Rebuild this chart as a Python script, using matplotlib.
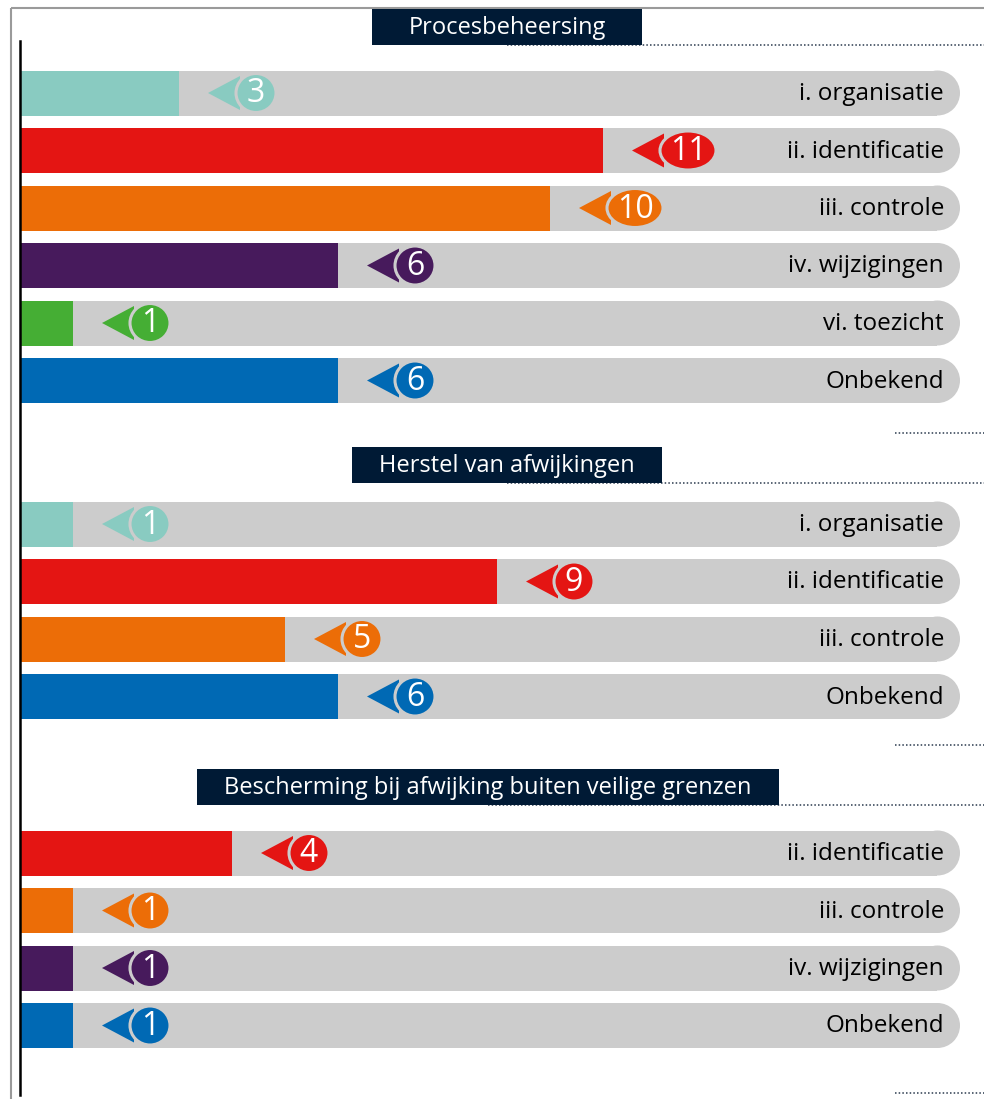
import matplotlib
matplotlib.use('Agg')
import matplotlib.pyplot as plt
from matplotlib.patches import Rectangle, Ellipse, Polygon

plt.rcParams['font.family'] = ['Open Sans', 'DejaVu Sans']

# data per section
sec1_title = 'Procesbeheersing'
sec1_cats = ['i. organisatie', 'ii. identificatie', 'iii. controle',
             'iv. wijzigingen', 'vi. toezicht', 'Onbekend']
sec1_vals = [3, 11, 10, 6, 1, 6]

sec2_title = 'Herstel van afwijkingen'
sec2_cats = ['i. organisatie', 'ii. identificatie', 'iii. controle', 'Onbekend']
sec2_vals = [1, 9, 5, 6]

sec3_title = 'Bescherming bij afwijking buiten veilige grenzen'
sec3_cats = ['ii. identificatie', 'iii. controle', 'iv. wijzigingen', 'Onbekend']
sec3_vals = [4, 1, 1, 1]

colors = {
    'i. organisatie': '#89cbc1',
    'ii. identificatie': '#e41513',
    'iii. controle': '#ec6d07',
    'iv. wijzigingen': '#471a5c',
    'vi. toezicht': '#45ae34',
    'Onbekend': '#0069b4',
}
TRACK = '#cccccc'
NAVY = '#001a35'

W, H = 984, 1099
UNIT = 53.0      # pixels per count
X0 = 20          # pixel position of zero
BAR_H = 45
PITCH = 57.5


def px(x):
    # pixel x -> data units
    return (x - X0) / UNIT


fig = plt.figure(figsize=(W / 100, H / 100), dpi=100)
ax = fig.add_axes([0, 0, 1, 1])
ax.set_xlim(px(0), px(W))
ax.set_ylim(H, 0)
ax.axis('off')

# outer frame and axis line
ax.add_patch(Rectangle((px(11), 8), px(W + 50) - px(11), H + 50,
                       fill=False, edgecolor='#9a9a9a', lw=1.5, zorder=1))
ax.plot([px(19.5), px(19.5)], [41, 1095], color='black', lw=1.8, zorder=6)

layout = [
    # title, cats, vals, box (x0, x1, y0, y1), first row y, tail dotted y
    (sec1_title, sec1_cats, sec1_vals, (372, 642, 9, 45), 93, 433),
    (sec2_title, sec2_cats, sec2_vals, (352, 662, 447, 483), 524, 745),
    (sec3_title, sec3_cats, sec3_vals, (197, 779, 769, 805), 853, 1093),
]

dot_style = dict(color='#2b3a4e', lw=1.1, ls=(0, (1, 1.4)), zorder=2)

for title, cats, vals, box, y_first, y_tail in layout:
    bx0, bx1, by0, by1 = box
    # header box with dotted rule to the right
    ax.plot([px((bx0 + bx1) / 2), px(W)], [by1, by1], **dot_style)
    ax.add_patch(Rectangle((px(bx0), by0), px(bx1) - px(bx0), by1 - by0,
                           facecolor=NAVY, edgecolor='none', zorder=3))
    ax.text(px((bx0 + bx1) / 2), (by0 + by1) / 2 + 1, title, color='white',
            fontsize=17, ha='center', va='center', zorder=4)
    ax.plot([px(895), px(W)], [y_tail, y_tail], **dot_style)

    ys = [y_first + i * PITCH for i in range(len(cats))]
    r = BAR_H / 2
    for y, cat, v in zip(ys, cats, vals):
        # rounded grey track
        ax.add_patch(Rectangle((0, y - r), px(960 - r), BAR_H,
                               facecolor=TRACK, edgecolor='none', zorder=2))
        ax.add_patch(Ellipse((px(960 - r), y), 2 * r / UNIT, BAR_H,
                             facecolor=TRACK, edgecolor='none', zorder=2))
        ax.text(px(944), y + 1, cat, ha='right', va='center',
                fontsize=17.5, color='black', zorder=4)

    ax.barh(ys, vals, height=BAR_H, left=0,
            color=[colors[c] for c in cats], zorder=3)

    # value pointer: triangle + badge
    for y, cat, v in zip(ys, cats, vals):
        c = colors[cat]
        tip = v + 29 / UNIT
        tri = Polygon([(tip, y), (tip + 32 / UNIT, y - 17), (tip + 32 / UNIT, y + 17)],
                      closed=True, facecolor=c, edgecolor='none', zorder=4)
        ax.add_patch(tri)
        bw = 40 if v < 10 else 56
        cx = tip + (28 + bw / 2) / UNIT
        ax.add_patch(Ellipse((cx, y), bw / UNIT, 39, facecolor=c,
                             edgecolor=TRACK, lw=2.2, zorder=5))
        ax.text(cx, y + 1, str(v), color='white', fontsize=23,
                ha='center', va='center', zorder=6)

fig.savefig('out.png', dpi=100)
